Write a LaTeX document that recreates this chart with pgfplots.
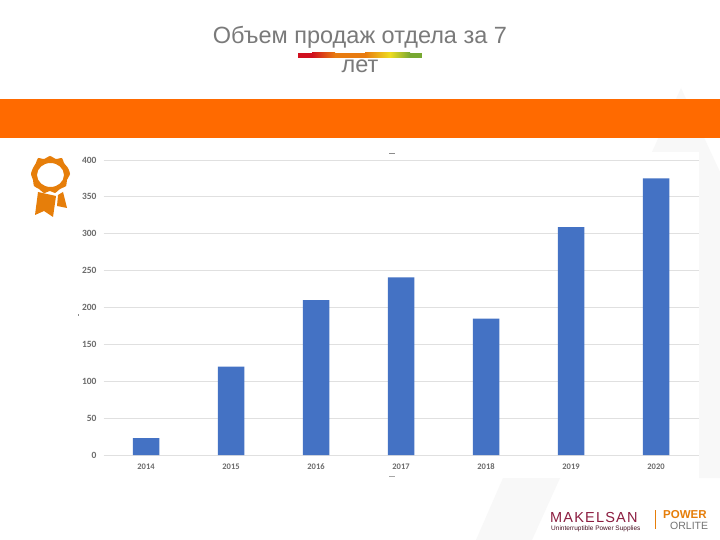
\documentclass[border=0pt]{standalone}
\usepackage{pgfplots}
\pgfplotsset{compat=1.18}
\usepackage{fontspec}
\setmainfont{Liberation Sans}
\newfontfamily\chartfont{Carlito}
\usetikzlibrary{shadings}
\definecolor{band}{HTML}{FF6A00}
\definecolor{barblue}{HTML}{4472C4}
\definecolor{medal}{HTML}{E67E0A}
\definecolor{wm}{HTML}{F8F8F8}
\definecolor{crimson}{HTML}{8C1D40}
\definecolor{gr}{HTML}{D0101F}
\definecolor{go}{HTML}{E87B10}
\definecolor{gy}{HTML}{EEDD20}
\definecolor{gg}{HTML}{77A832}
\begin{document}
\begin{tikzpicture}[x=1pt,y=-1pt]
\path[use as bounding box] (0,0) rectangle (720,540);
\fill[white] (0,0) rectangle (720,540);
% watermark
\fill[wm] (681,88) -- (652,152) -- (699,152) -- (699,478) -- (720,478) -- (720,172) -- cycle;
\fill[wm] (503,478) -- (560,478) -- (532,540) -- (476,540) -- cycle;
% title
\node[text=black!52,font=\fontsize{23.5}{23.5}\selectfont,anchor=base] at (360,44) {Объем продаж отдела за 7};
\node[text=black!52,font=\fontsize{23.5}{23.5}\selectfont,anchor=base] at (360,73) {лет};
% gradient rule
\fill[gr] (298,53) rectangle (312,58);
\shade[left color=gr,right color=go] (312,53) rectangle (335,58);
\fill[go] (335,53) rectangle (365,58);
\shade[left color=go,right color=gy] (365,53) rectangle (390,58);
\shade[left color=gy,right color=gg] (390,53) rectangle (410,58);
\fill[gg] (410,53) rectangle (422,58);
% band
\fill[band] (0,99) rectangle (720,138);
% medal
\fill[medal,even odd rule] plot[smooth cycle,tension=0.35] coordinates {
(50,156)(56,159)(62,158)(64,163)(68,168)(70,174)(67,180)(66,186)(60,189)(55,193)(50,191)(44,193)(39,189)(34,186)(33,180)(31,174)(33,168)(36,163)(38,158)(44,159)}
(50.5,175) ellipse [x radius=13.5,y radius=12];
\fill[medal] (38,192) -- (56,196) -- (53,217) -- (44,211) -- (35,215) -- cycle;
\fill[medal] (58,195) -- (63,192) -- (67,208) -- (57,206) -- cycle;
% axis
\begin{axis}[at={(103.5pt,-455pt)},anchor=south west,scale only axis,
 width=595pt,height=295pt,
 xmin=-0.5,xmax=6.5,ymin=0,ymax=400,
 ybar,bar width=26.5pt,
 axis line style={draw=none},axis x line*=bottom,axis y line*=left,
 ytick={0,50,...,400},
 xtick={0,...,6},xticklabels={2014,2015,2016,2017,2018,2019,2020},
 major tick length=0pt,
 ymajorgrids,grid style={draw=black!12,line width=0.8pt},
 x tick label style={font=\chartfont\bfseries\fontsize{8.5}{8.5}\selectfont,text=black!58,yshift=-5pt},
 y tick label style={font=\chartfont\bfseries\fontsize{9.5}{9.5}\selectfont,text=black!58,xshift=-3.5pt},
 /pgf/number format/assume math mode=true,
 /pgf/number format/1000 sep={},
 clip=false]
\addplot[fill=barblue,draw=none] coordinates {(0,23)(1,120)(2,210)(3,241)(4,185)(5,309)(6,375)};
\end{axis}
% small artefacts
\fill[black!45] (389,153) rectangle (395,154.2);
\fill[black!35] (389,476) rectangle (395,477.2);
\fill[black!45] (78,314) rectangle (79,316);
% logo
\node[anchor=base west,text=crimson,font=\fontsize{14.5}{14.5}\selectfont,inner sep=0] at (550,522) {M\kern1.2pt A\kern1.2pt K\kern1.2pt E\kern1.2pt L\kern1.2pt S\kern1.2pt A\kern1.2pt N};
\node[anchor=base west,text=black!50!crimson,font=\fontsize{6.5}{6.5}\selectfont,inner sep=0] at (551,530.5) {Uninterruptible Power Supplies};
\fill[medal] (654.5,510) rectangle (655.5,529);
\node[anchor=base west,text=medal,font=\bfseries\fontsize{11.5}{11.5}\selectfont,inner sep=0] at (663,518.5) {POWER};
\node[anchor=base west,text=black!55,font=\fontsize{10.5}{10.5}\selectfont,inner sep=0] at (670,529.5) {ORLITE};
\end{tikzpicture}
\end{document}
